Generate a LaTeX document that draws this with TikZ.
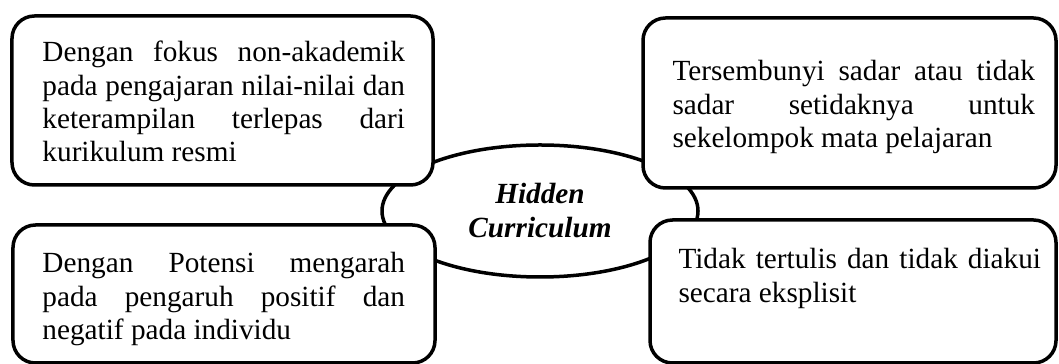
\documentclass[tikz,border=0pt]{standalone}
\usepackage{fontspec}
\setmainfont{Liberation Serif}
\usetikzlibrary{shapes.geometric}
\hyphenpenalty=10000
\exhyphenpenalty=10000

\begin{document}
\begin{tikzpicture}[x=0.4pt,y=-0.4pt,
box/.style={draw,line width=1.4pt,rounded corners=9pt,fill=white,inner sep=0pt},
boxtext/.style={anchor=base west,text width=145pt,align=justify,inner sep=0pt,
  font=\fontsize{11.7}{13.3}\selectfont},
core/.style={draw,line width=1.4pt,ellipse,inner sep=0pt,minimum width=126.4pt,
  minimum height=52.8pt,align=center,font=\fontsize{11.7}{13.6}\selectfont\bfseries\itshape}]

\useasboundingbox (0,0) rectangle (1059,364);

% centre
\node[core] (hc) at (540,211) {Hidden\\Curriculum};

% four boxes on top of the ellipse
\node[box,minimum width=168.4pt,minimum height=67.6pt] (tl) at (222.5,100.5) {};
\node[box,minimum width=165.2pt,minimum height=68pt] (tr) at (849.5,103) {};
\node[box,minimum width=168.8pt,minimum height=55.2pt] (bl) at (224,294) {};
\node[box,minimum width=162.4pt,minimum height=57.2pt] (br) at (853,291.5) {};

\node[boxtext] (tltext) at (42,62) {Dengan fokus non-akademik\linebreak
  pada pengajaran nilai-nilai dan\linebreak keterampilan terlepas dari\linebreak
  kurikulum resmi};
\node[boxtext] (trtext) at (672,81) {Tersembunyi sadar atau tidak\linebreak
  sadar setidaknya untuk\linebreak sekelompok mata pelajaran};
\node[boxtext] (bltext) at (42,273) {Dengan Potensi mengarah\linebreak
  pada pengaruh positif dan\linebreak negatif pada individu};
\node[boxtext] (brtext) at (678,269) {Tidak tertulis dan tidak diakui\linebreak
  secara eksplisit};

\end{tikzpicture}
\end{document}
